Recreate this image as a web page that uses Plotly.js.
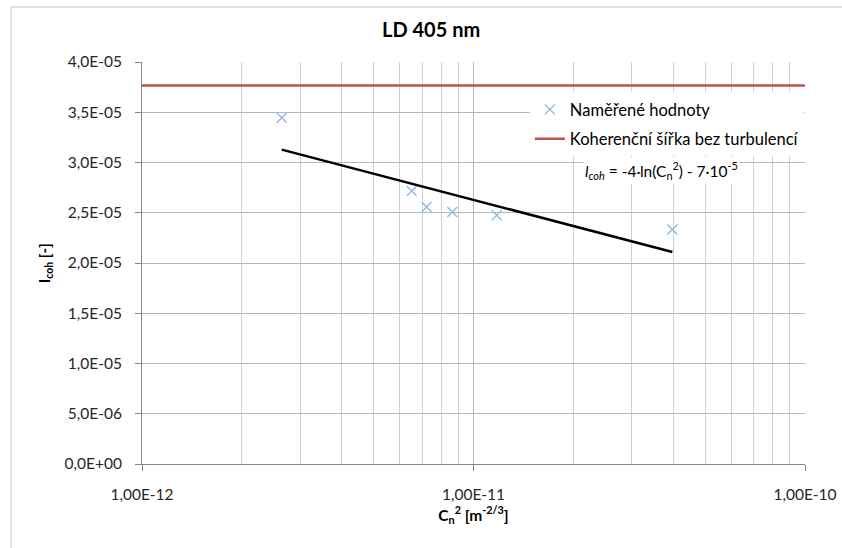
<!DOCTYPE html>
<html>
<head>
<meta charset="utf-8">
<script src="https://cdn.plot.ly/plotly-3.0.1.min.js"></script>
<style>html,body{margin:0;padding:0;background:#fff;}#chart{width:842px;height:548px;}</style>
</head>
<body>
<div id="chart"></div>
<script>
// Measured values
const cn2 = [2.64e-12, 6.51e-12, 7.22e-12, 8.63e-12, 1.175e-11, 3.98e-11];
const lcoh = [3.446e-5, 2.717e-5, 2.558e-5, 2.508e-5, 2.475e-5, 2.333e-5];
// Logarithmic trend line (endpoints)
const trendX = [2.64e-12, 3.98e-11];
const trendY = [3.128e-5, 2.110e-5];
// Coherence width without turbulence
const refX = [1e-12, 1e-10];
const refY = [3.767e-5, 3.767e-5];
// Tick labels
const xTickVals = [1e-12, 1e-11, 1e-10];
const xTickText = ["1,00E-12", "1,00E-11", "1,00E-10"];
const yTickVals = [0, 5e-6, 1e-5, 1.5e-5, 2e-5, 2.5e-5, 3e-5, 3.5e-5, 4e-5];
const yTickText = ["0,0E+00", "5,0E-06", "1,0E-05", "1,5E-05", "2,0E-05", "2,5E-05", "3,0E-05", "3,5E-05", "4,0E-05"];

const FONT = "Lato, 'Liberation Sans', sans-serif";

const traces = [
  {
    x: cn2, y: lcoh, type: "scatter", mode: "markers", name: "Naměřené hodnoty",
    legendgroup: "a",
    marker: {symbol: "x-thin", size: 10, color: "#8eb4e3", line: {color: "#8eb4e3", width: 1.3}}
  },
  {
    x: refX, y: refY, type: "scatter", mode: "lines", name: "Koherenční šířka bez turbulencí",
    legendgroup: "b",
    line: {color: "#c0504d", width: 2.5}
  },
  {
    x: trendX, y: trendY, type: "scatter", mode: "lines", name: "trend",
    showlegend: false,
    line: {color: "#000000", width: 2.5}
  }
];

const layout = {
  width: 842, height: 548,
  margin: {l: 142, r: 37, t: 62, b: 84},
  paper_bgcolor: "#ffffff", plot_bgcolor: "#ffffff",
  font: {family: FONT, size: 14, color: "#262626"},
  title: {
    text: "<b>LD 405 nm</b>", font: {family: FONT, size: 20, color: "#000"},
    x: 0.512, xref: "container", xanchor: "center", y: 0.945, yanchor: "middle"
  },
  showlegend: true,
  legend: {
    x: 0.585, y: 0.925, xanchor: "left", yanchor: "top",
    bgcolor: "#ffffff", borderwidth: 0,
    font: {family: FONT, size: 16.5, color: "#000"},
    traceorder: "grouped", tracegroupgap: 5
  },
  xaxis: {
    type: "log", range: [-12, -10],
    tickmode: "array", tickvals: xTickVals, ticktext: xTickText,
    ticks: "outside", ticklen: 6, tickcolor: "#868686",
    tickfont: {family: FONT, size: 15.5, color: "#262626"},
    ticklabelstandoff: 10,
    showgrid: true, gridcolor: "#b8b8b8", gridwidth: 1,
    minor: {dtick: "D1", showgrid: true, gridcolor: "#d0d0d0", gridwidth: 1, ticks: ""},
    showline: true, linecolor: "#868686", linewidth: 1,
    zeroline: false,
    title: {text: "<b>C<sub>n</sub><sup>2</sup> [m<sup>-2/3</sup>]</b>", font: {family: FONT, size: 15.5, color: "#000"}, standoff: 8}
  },
  yaxis: {
    range: [0, 4e-5],
    tickmode: "array", tickvals: yTickVals, ticktext: yTickText,
    ticks: "outside", ticklen: 6, tickcolor: "#868686",
    tickfont: {family: FONT, size: 15.5, color: "#262626"},
    ticklabelstandoff: 10,
    showgrid: true, gridcolor: "#b8b8b8", gridwidth: 1,
    showline: true, linecolor: "#868686", linewidth: 1,
    zeroline: false
  },
  annotations: [
    {
      xref: "paper", yref: "paper", x: -0.146, y: 0.5, xanchor: "center", yanchor: "middle",
      text: "<b>I<sub>coh</sub> [-]</b>", textangle: -90, showarrow: false,
      font: {family: FONT, size: 15, color: "#000"}
    },
    {
      xref: "paper", yref: "paper", x: 0.783, y: 0.731, xanchor: "center", yanchor: "middle",
      text: "<i>l</i><sub><i>coh</i></sub> = -4·ln(C<sub>n</sub><sup>2</sup>) - 7·10<sup>-5</sup>",
      showarrow: false, bgcolor: "#ffffff",
      font: {family: FONT, size: 15.5, color: "#000"}
    }
  ],
  shapes: [
    {
      type: "rect", xref: "paper", yref: "paper",
      x0: -0.1976, x1: 1.3, y0: -0.4, y1: 1.1368,
      line: {color: "#c0c0c0", width: 1}, fillcolor: "rgba(0,0,0,0)", layer: "below"
    }
  ]
};

Plotly.newPlot("chart", traces, layout, {displayModeBar: false, staticPlot: true});
</script>
</body>
</html>
